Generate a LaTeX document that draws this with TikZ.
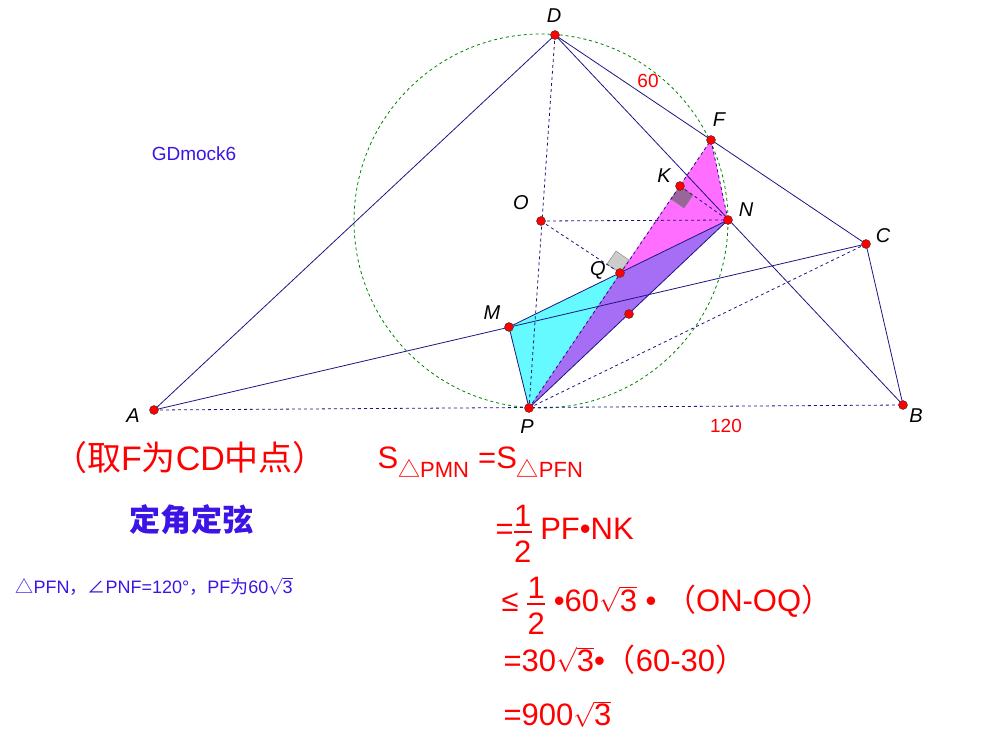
\documentclass[tikz,border=0pt]{standalone}
\usepackage{fontspec}
\setmainfont{Liberation Sans}
\newfontfamily\cjk{Noto Sans CJK SC}
\usetikzlibrary{shapes,backgrounds}
\definecolor{lineblue}{RGB}{30,20,130}
\definecolor{txtblue}{RGB}{60,20,230}
\definecolor{cyanfill}{RGB}{100,250,255}
\definecolor{magfill}{RGB}{255,110,255}
\definecolor{violetfill}{RGB}{165,110,245}
\newcommand{\half}{\raisebox{-0.75em}{\shortstack{1\\[1pt]\rule{18pt}{2pt}\\[5pt]2}}}

\begin{document}
\begin{tikzpicture}[x=1pt,y=-1pt,thin,
                    pt/.style={circle,fill=red,draw=black!80,inner sep=0pt,minimum size=9pt},
                    lbl/.style={font=\itshape\fontsize{20}{20}\selectfont},
                    seg/.style={lineblue,line width=0.8pt},
                    aux/.style={lineblue,line width=0.8pt,dashed},
                    redtxt/.style={red,font=\fontsize{31}{32}\selectfont,anchor=west}]
  \useasboundingbox (0,0) rectangle (991,752);

  \coordinate (D) at (555,35);
  \coordinate (F) at (711,140);
  \coordinate (N) at (728,220);
  \coordinate (C) at (866,244);
  \coordinate (B) at (903,405);
  \coordinate (P) at (529,408);
  \coordinate (A) at (154,410);
  \coordinate (M) at (509,327);
  \coordinate (O) at (541,221);
  \coordinate (Q) at (620,273);
  \coordinate (K) at (680,186);
  \coordinate (H) at (629,314);

  % the three coloured triangles
  \fill[cyanfill] (P) -- (M) -- (Q) -- cycle;
  \fill[magfill] (Q) -- (F) -- (N) -- cycle;
  \fill[violetfill] (P) -- (Q) -- (N) -- cycle;

  \draw[green!50!black,dashed,line width=0.8pt] (O) circle (187);

  \fill[gray!40,draw=gray] (620,273) -- (629,260) -- (616,251) -- (607,264) -- cycle;
  \fill[violet!50!gray!80,draw=gray] (680,186) -- (671,199) -- (684,208) -- (693,195) -- cycle;

  \draw[seg] (A) -- (D) -- (C) -- (B);
  \draw[seg] (D) -- (B);
  \draw[seg] (A) -- (C);
  \draw[seg] (P) -- (M) -- (N) -- (P);
  \draw[aux] (A) -- (B);
  \draw[aux] (D) -- (P);
  \draw[aux] (P) -- (C);
  \draw[aux] (P) -- (F) -- (N);
  \draw[aux] (O) -- (N);
  \draw[aux] (O) -- (Q);
  \draw[aux] (K) -- (N);

  \foreach \p in {D,F,N,C,B,P,A,M,O,Q,K,H}
    \node[pt] at (\p) {};

  \node[lbl] at (554,16) {D};
  \node[lbl] at (719,120) {F};
  \node[lbl] at (746,210) {N};
  \node[lbl] at (883,236) {C};
  \node[lbl] at (916,416) {B};
  \node[lbl] at (527,427) {P};
  \node[lbl] at (133,416) {A};
  \node[lbl] at (492,313) {M};
  \node[lbl] at (521,203) {O};
  \node[lbl] at (598,270) {Q};
  \node[lbl] at (664,176) {K};

  \node[red,font=\fontsize{19}{19}\selectfont] at (648,81) {60};
  \node[red,font=\fontsize{19}{19}\selectfont] at (726,426) {120};
  \node[txtblue,font=\fontsize{19}{19}\selectfont] at (194,154) {GDmock6};

  \node[red,font=\fontsize{34}{36}\selectfont] at (190,458) {{\cjk （取}F{\cjk 为}CD{\cjk 中点）}};
  \node[txtblue,font=\cjk\bfseries\fontsize{31}{32}\selectfont] at (191,520) {定角定弦};
  \node[txtblue,font=\fontsize{18}{18}\selectfont,anchor=west] at (12,586)
    {{\cjk △}PFN{\cjk ，∠}PNF=120°{\cjk ，}PF{\cjk 为}60$\sqrt{\mbox{3}}$};

  \node[redtxt] at (374,462) {S\textsubscript{\fontsize{22}{22}\selectfont{\cjk △}PMN} =S\textsubscript{\fontsize{22}{22}\selectfont{\cjk △}PFN}};
  \node[redtxt] at (492,534) {=\half\ PF•NK};
  \node[redtxt] at (498,606) {≤ \half\ •60$\sqrt{\mbox{3}}$ • {\cjk （}ON-OQ{\cjk ）}};
  \node[redtxt] at (500,660) {=30$\sqrt{\mbox{3}}$•{\cjk （}60-30{\cjk ）}};
  \node[redtxt] at (500,714) {=900$\sqrt{\mbox{3}}$};
\end{tikzpicture}
\end{document}
